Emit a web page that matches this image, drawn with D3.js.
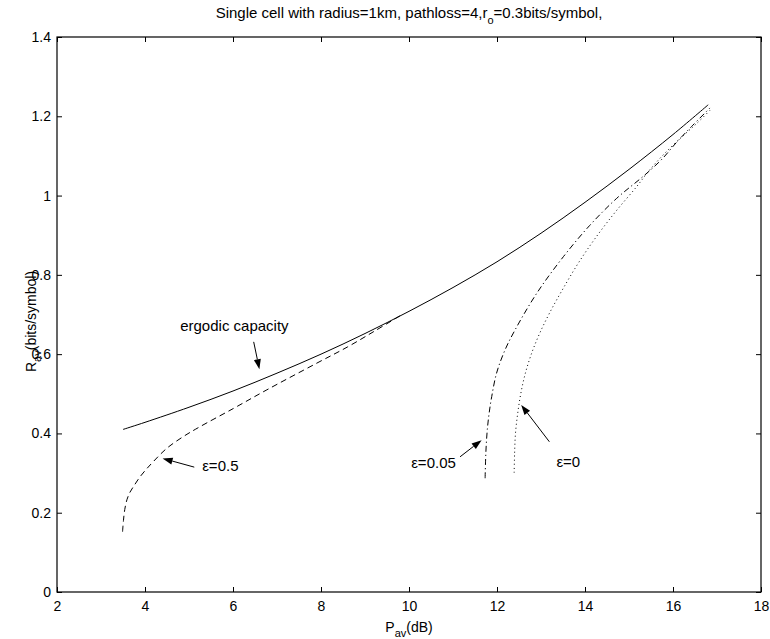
<!DOCTYPE html>
<html><head><meta charset="utf-8">
<script src="https://cdn.jsdelivr.net/npm/d3@7"></script>
<style>body{margin:0;background:#fff}svg{display:block}text{font-family:"Liberation Sans",Arial,Helvetica,sans-serif;fill:#000}</style>
</head><body>
<svg id="chart" width="770" height="639"></svg>
<script>
// ---- data ----
const xTicks = [2,4,6,8,10,12,14,16,18];
const yTicks = [0,0.2,0.4,0.6,0.8,1,1.2,1.4];
const yTickLabels = ["0","0.2","0.4","0.6","0.8","1","1.2","1.4"];

const ergodicX = [3.5,4,5,6,7,8,9,10,11,12,13,14,15,16,16.8];
const ergodicY = [0.41,0.428,0.466,0.507,0.552,0.600,0.652,0.708,0.768,0.833,0.905,0.983,1.066,1.154,1.229];

const eps05X = [3.49,3.51,3.54,3.59,3.66,3.75,3.89,4.04,4.19,4.49,4.87,5.25,6.01,6.77,7.9,8.6,9.2,9.8];
const eps05Y = [0.152,0.180,0.208,0.233,0.252,0.268,0.291,0.311,0.329,0.362,0.392,0.417,0.463,0.510,0.577,0.618,0.657,0.697];

const eps005X = [11.73,11.74,11.755,11.78,11.82,11.88,11.99,12.18,12.41,12.9,13.51,14.11,14.72,15.36,15.75,16.07,16.42,16.84];
const eps005Y = [0.287,0.33,0.37,0.41,0.45,0.493,0.552,0.61,0.661,0.753,0.846,0.925,0.993,1.052,1.092,1.133,1.174,1.221];

const eps0X = [12.39,12.40,12.42,12.47,12.54,12.64,12.78,12.96,13.2,13.5,13.85,14.25,14.7,15.17,15.48,15.86,16.27,16.54,16.84];
const eps0Y = [0.301,0.35,0.40,0.45,0.50,0.55,0.60,0.65,0.705,0.765,0.83,0.895,0.96,1.022,1.066,1.112,1.155,1.182,1.215];

const series = [
  {name:"ergodic capacity", x:ergodicX, y:ergodicY, dash:null},
  {name:"ε=0.5", x:eps05X, y:eps05Y, dash:"6,4"},
  {name:"ε=0.05", x:eps005X, y:eps005Y, dash:"6,3,1.2,3"},
  {name:"ε=0", x:eps0X, y:eps0Y, dash:"1,3"}
];

// annotations: label text, text anchor point, arrow tail, arrow head (data units)
const annotations = [
  {text:"ergodic capacity", tx:4.80, ty:0.658, ax0:6.47, ay0:0.631, ax1:6.60, ay1:0.562},
  {text:"ε=0.5", tx:5.30, ty:0.304, ax0:5.12, ay0:0.315, ax1:4.40, ay1:0.337},
  {text:"ε=0.05", tx:10.05, ty:0.313, ax0:11.16, ay0:0.341, ax1:11.65, ay1:0.383},
  {text:"ε=0", tx:13.35, ty:0.315, ax0:13.19, ay0:0.379, ax1:12.55, ay1:0.472}
];

// ---- layout ----
const L=57, R=761, T=37, B=592;
const FS=14, AFS=15;
const svg = d3.select("#chart");
const x = d3.scaleLinear().domain([2,18]).range([L,R]);
const y = d3.scaleLinear().domain([0,1.4]).range([B,T]);

// title
const title = svg.append("text").attr("x",(L+R)/2).attr("y",18).attr("text-anchor","middle").attr("font-size",AFS);
title.append("tspan").text("Single cell with radius=1km, pathloss=4,r");
title.append("tspan").attr("dy",6).attr("font-size",11).text("o");
title.append("tspan").attr("dy",-6).text("=0.3bits/symbol,");

// axes
const tickLen = 5;
const gx = svg.append("g").attr("transform",`translate(0,${B})`)
  .call(d3.axisBottom(x).tickValues(xTicks).tickSize(-tickLen).tickPadding(9).tickFormat(d3.format("d")));
const gxTop = svg.append("g").attr("transform",`translate(0,${T})`)
  .call(d3.axisTop(x).tickValues(xTicks).tickSize(-tickLen).tickFormat(""));
const gy = svg.append("g").attr("transform",`translate(${L},0)`)
  .call(d3.axisLeft(y).tickValues(yTicks).tickSize(-tickLen).tickPadding(6).tickFormat((d,i)=>yTickLabels[i]));
const gyR = svg.append("g").attr("transform",`translate(${R},0)`)
  .call(d3.axisRight(y).tickValues(yTicks).tickSize(-tickLen).tickFormat(""));
[gx,gxTop,gy,gyR].forEach(g=>{
  g.select(".domain").remove();
  g.selectAll("line").attr("stroke","#000");
  g.selectAll("text").attr("font-size",FS).attr("font-family","Liberation Sans, Arial, sans-serif").attr("fill","#000");
});
svg.append("rect").attr("x",L).attr("y",T).attr("width",R-L).attr("height",B-T)
  .attr("fill","none").attr("stroke","#000").attr("stroke-width",1.2);

// axis labels
const xl = svg.append("text").attr("x",(L+R)/2).attr("y",632).attr("text-anchor","middle").attr("font-size",FS);
xl.append("tspan").text("P");
xl.append("tspan").attr("dy",5).attr("font-size",11).text("av");
xl.append("tspan").attr("dy",-5).text("(dB)");

const yl = svg.append("text").attr("transform",`translate(36,372) rotate(-90)`).attr("text-anchor","start").attr("font-size",FS);
yl.append("tspan").text("R");
yl.append("tspan").attr("dy",5).attr("font-size",11).text("av");
yl.append("tspan").attr("dy",-5).text("(bits/symbol)");

// curves
const line = d3.line().x(d=>x(d[0])).y(d=>y(d[1])).curve(d3.curveCatmullRom.alpha(0.5));
series.forEach(s=>{
  const pts = s.x.map((v,i)=>[v,s.y[i]]);
  svg.append("path").attr("d",line(pts)).attr("fill","none").attr("stroke","#000")
    .attr("stroke-width",1).attr("stroke-dasharray",s.dash);
});

// annotations
annotations.forEach(a=>{
  svg.append("text").attr("x",x(a.tx)).attr("y",y(a.ty)).attr("font-size",AFS).text(a.text);
  const x0=x(a.ax0), y0=y(a.ay0), x1=x(a.ax1), y1=y(a.ay1);
  const ang=Math.atan2(y1-y0,x1-x0), hl=10, hw=3.5;
  const bx=x1-hl*Math.cos(ang), by=y1-hl*Math.sin(ang);
  svg.append("line").attr("x1",x0).attr("y1",y0).attr("x2",bx).attr("y2",by).attr("stroke","#000").attr("stroke-width",1);
  const p=[[x1,y1],[bx+hw*Math.sin(ang),by-hw*Math.cos(ang)],[bx-hw*Math.sin(ang),by+hw*Math.cos(ang)]];
  svg.append("path").attr("d","M"+p.map(q=>q.join(",")).join("L")+"Z").attr("fill","#000");
});
</script>
</body></html>
